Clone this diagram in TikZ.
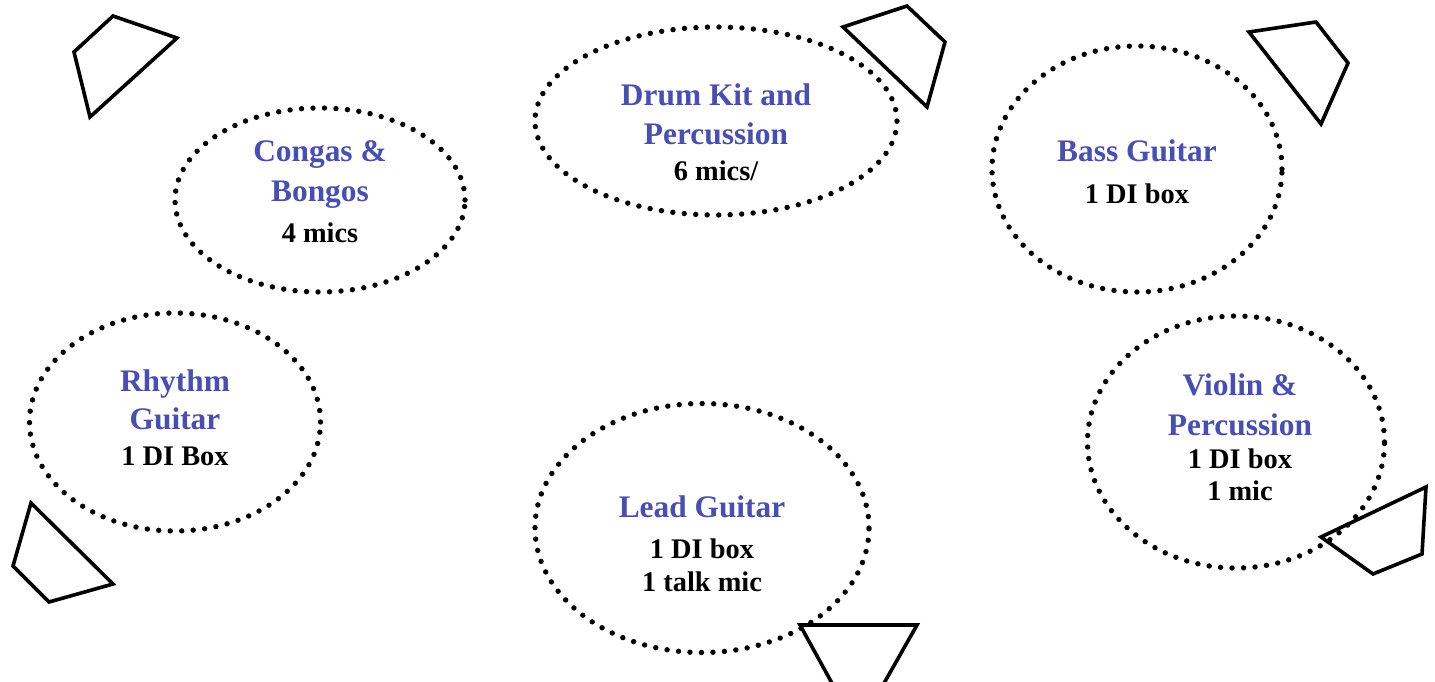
\documentclass[tikz,border=0pt]{standalone}
\usepackage{fontspec}
\setmainfont{Liberation Serif}
\usetikzlibrary{shapes.geometric}
\definecolor{stageblue}{RGB}{72,78,178}
\tikzset{
  zone/.style={ellipse, draw=black, line width=5.4bp, line cap=round, dash pattern=on 0bp off 11.5bp, inner sep=0pt},
  lbl/.style={text=stageblue, font=\fontsize{31.5}{36}\selectfont\bfseries, anchor=base, inner sep=0pt},
  sub/.style={text=black, font=\fontsize{28.5}{33}\selectfont\bfseries, anchor=base, inner sep=0pt},
  wedge/.style={draw=black, line width=3.6bp, line join=miter, fill=none}
}
\begin{document}
\begin{tikzpicture}[x=1bp,y=-1bp]
\useasboundingbox (0,0) rectangle (1435,682);
% zones
\node[zone, minimum width=290bp, minimum height=184bp] (conga) at (320,200) {};
\node[zone, minimum width=362bp, minimum height=188bp] (drum) at (716,121) {};
\node[zone, minimum width=290bp, minimum height=246bp] (bass) at (1137,169) {};
\node[zone, minimum width=291bp, minimum height=218bp] (rhythm) at (175,422) {};
\node[zone, minimum width=334bp, minimum height=249bp] (lead) at (702,528) {};
\node[zone, minimum width=297bp, minimum height=252bp] (violin) at (1236,442) {};
% texts
\node[lbl] (conga1) at (320,161) {Congas \&};
\node[lbl] (conga2) at (320,201) {Bongos};
\node[sub] (conga3) at (320,242) {4 mics};
\node[lbl] (drum1) at (716,106) {Drum Kit and};
\node[lbl] (drum2) at (716,144) {Percussion};
\node[sub] (drum3) at (716,180) {6 mics/};
\node[lbl] (bass1) at (1137,161) {Bass Guitar};
\node[sub] (bass2) at (1137,203) {1 DI box};
\node[lbl] (rhy1) at (175,391) {Rhythm};
\node[lbl] (rhy2) at (175,429) {Guitar};
\node[sub] (rhy3) at (175,465) {1 DI Box};
\node[lbl] (lead1) at (702,517) {Lead Guitar};
\node[sub] (lead2) at (702,558) {1 DI box};
\node[sub] (lead3) at (702,591) {1 talk mic};
\node[lbl] (vio1) at (1240,395) {Violin \&};
\node[lbl] (vio2) at (1240,435) {Percussion};
\node[sub] (vio3) at (1240,468) {1 DI box};
\node[sub] (vio4) at (1240,500) {1 mic};
% monitor wedges
\draw[wedge] (113,16) -- (177,38) -- (90,117) -- (74,52) -- cycle;
\draw[wedge] (843,27) -- (907,6) -- (945,42) -- (927,107) -- cycle;
\draw[wedge] (1249,32) -- (1316,22) -- (1348,63) -- (1321,124) -- cycle;
\draw[wedge] (31,503) -- (113,584) -- (49,602) -- (13,566) -- cycle;
\draw[wedge] (800,625) -- (917,625) -- (883,685) -- (833,685) -- cycle;
\draw[wedge] (1426,487) -- (1422,554) -- (1373,574) -- (1321,537) -- cycle;
\end{tikzpicture}
\end{document}
